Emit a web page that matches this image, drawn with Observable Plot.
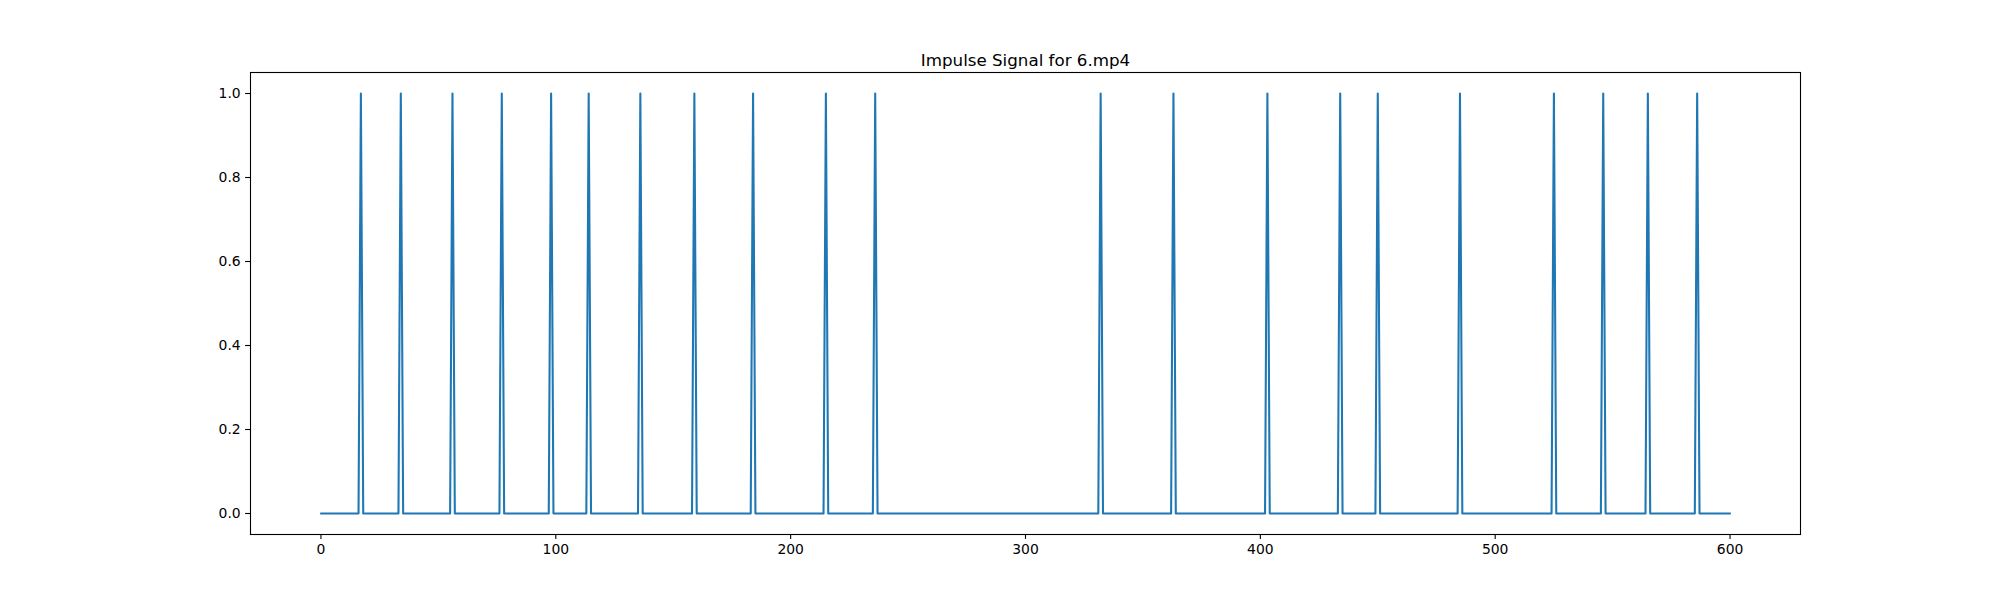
<!DOCTYPE html>
<html>
<head>
<meta charset="utf-8">
<script src="https://cdn.jsdelivr.net/npm/d3@7"></script>
<script src="https://cdn.jsdelivr.net/npm/@observablehq/plot@0.6"></script>
<style>
  html, body { margin: 0; padding: 0; background: #fff; }
  #chart svg { display: block; }
</style>
</head>
<body>
<div id="chart"></div>
<script>
const chartTitle = "Impulse Signal for 6.mp4";
const frameIndices = d3.range(0, 601);          // frames 0..600
const impulseFrames = [17, 34, 56, 77, 98, 114, 136, 159, 184, 215, 236,
                       332, 363, 403, 434, 450, 485, 525, 546, 565, 586];
const xTicks = [0, 100, 200, 300, 400, 500, 600];
const yTicks = [0.0, 0.2, 0.4, 0.6, 0.8, 1.0];

const impulseSet = new Set(impulseFrames);
const signal = frameIndices.map(f => ({frame: f, value: impulseSet.has(f) ? 1 : 0}));

const chart = Plot.plot({
  width: 2000,
  height: 600,
  marginLeft: 250,
  marginRight: 200,
  marginTop: 72,
  marginBottom: 66,
  style: {fontFamily: "DejaVu Sans, sans-serif", fontSize: "13.9px", color: "#000", background: "#fff"},
  x: {domain: [-30, 630]},
  y: {domain: [-0.05, 1.05]},
  marks: [
    Plot.lineY(signal, {x: "frame", y: "value", stroke: "#1f77b4", strokeWidth: 2.08}),
    Plot.frame({stroke: "#000", strokeWidth: 1.1}),
    Plot.axisX({ticks: xTicks, tickSize: 4.9, tickPadding: 4.9, tickFormat: d => String(d),
                fontSize: 13.9, label: null, strokeWidth: 1.1}),
    Plot.axisY({ticks: yTicks, tickSize: 4.9, tickPadding: 4.9, tickFormat: d3.format(".1f"),
                fontSize: 13.9, label: null, strokeWidth: 1.1}),
    Plot.text([chartTitle], {text: d => d, frameAnchor: "top", lineAnchor: "bottom", dy: -7,
                fontSize: 16.7, fill: "#000"})
  ]
});
document.getElementById("chart").appendChild(chart);
</script>
</body>
</html>
